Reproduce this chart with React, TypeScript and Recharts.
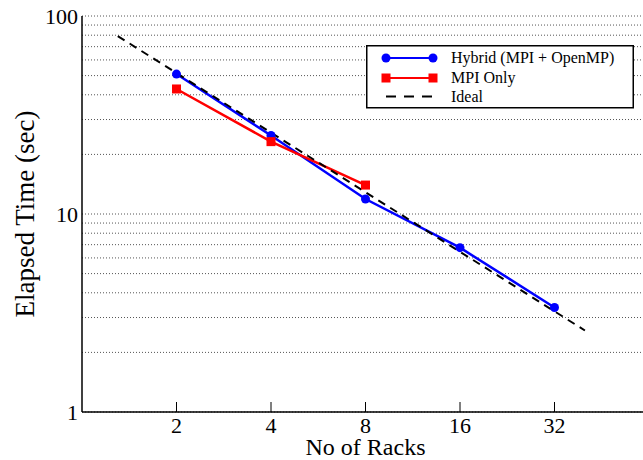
import React from 'react';
import {
  LineChart,
  Line,
  XAxis,
  YAxis,
  CartesianGrid,
  Legend
} from 'recharts';

const FONT = '"Liberation Serif", "Times New Roman", serif';

// x: number of racks, y: elapsed time in seconds (log-log)
const racks = [2, 4, 8, 16, 32];
const hybridTimes = [50.9, 24.9, 11.9, 6.76, 3.37];
const mpiRacks = [2, 4, 8];
const mpiTimes = [42.8, 23.2, 14.0];
const idealRacks = [1.3, 40];
const idealTimes = [79.2, 2.58];

const xTicks = [2, 4, 8, 16, 32];
const yTicks = [1, 2, 3, 4, 5, 6, 7, 8, 9, 10, 20, 30, 40, 50, 60, 70, 80, 90, 100];
const yLabels = [1, 10, 100];

const hybridData = racks.map((r, i) => ({ racks: r, time: hybridTimes[i] }));
const mpiData = mpiRacks.map((r, i) => ({ racks: r, time: mpiTimes[i] }));
const idealData = idealRacks.map((r, i) => ({ racks: r, time: idealTimes[i] }));

const BLUE = '#0000ff';
const RED = '#ff0000';

const BottomTick = (props: any) => {
  const { x, y, payload } = props;
  return (
    <g>
      <line x1={x} y1={y} x2={x} y2={y - 10} stroke="#000" strokeWidth={1} />
      <text x={x} y={y + 21} textAnchor="middle" fontSize={22} fontFamily={FONT} fill="#000">
        {payload.value}
      </text>
    </g>
  );
};

const TopTick = (props: any) => {
  const { x, y } = props;
  return <line x1={x} y1={y} x2={x} y2={y + 10} stroke="#000" strokeWidth={1} />;
};

const SquareDot = (props: any) => {
  const { cx, cy } = props;
  if (cx == null || cy == null) return null;
  return <rect x={cx - 4.5} y={cy - 4.5} width={9} height={9} fill={RED} />;
};

const XTitle = (props: any) => {
  const { viewBox } = props;
  return (
    <text
      x={viewBox.x + viewBox.width / 2}
      y={viewBox.y + 43}
      textAnchor="middle"
      fontSize={24}
      fontFamily={FONT}
      fill="#000"
    >
      No of Racks
    </text>
  );
};

const YTitle = (props: any) => {
  const { viewBox } = props;
  const cx = viewBox.x + 25;
  const cy = viewBox.y + viewBox.height / 2;
  return (
    <text
      x={cx}
      y={cy}
      transform={`rotate(-90, ${cx}, ${cy})`}
      textAnchor="middle"
      dominantBaseline="central"
      fontSize={27}
      fontFamily={FONT}
      fill="#000"
    >
      Elapsed Time (sec)
    </text>
  );
};

const LegendBox = () => (
  <svg width={268} height={64} style={{ display: 'block' }}>
    <rect x={0.75} y={0.75} width={266.5} height={62} fill="#fff" stroke="#000" strokeWidth={1.5} />
    <line x1={20} y1={13} x2={67} y2={13} stroke={BLUE} strokeWidth={2} />
    <circle cx={20} cy={13} r={4.5} fill={BLUE} />
    <circle cx={67} cy={13} r={4.5} fill={BLUE} />
    <text x={85} y={18} fontSize={16} fontFamily={FONT} fill="#000">Hybrid (MPI + OpenMP)</text>
    <line x1={20} y1={33} x2={67} y2={33} stroke={RED} strokeWidth={2} />
    <rect x={15.5} y={28.5} width={9} height={9} fill={RED} />
    <rect x={62.5} y={28.5} width={9} height={9} fill={RED} />
    <text x={85} y={38} fontSize={16} fontFamily={FONT} fill="#000">MPI Only</text>
    <line x1={20} y1={51.5} x2={67} y2={51.5} stroke="#000" strokeWidth={2} strokeDasharray="10 8" />
    <text x={85} y={56.5} fontSize={16} fontFamily={FONT} fill="#000">Ideal</text>
  </svg>
);

const App: React.FC = () => {
  return (
    <div
      style={{
        position: 'absolute',
        left: 0,
        top: 0,
        width: 643,
        height: 460,
        overflow: 'hidden',
        background: '#fff'
      }}
    >
      <LineChart width={660} height={460} margin={{ top: 16, right: 11, bottom: 0, left: 0 }}>
        <CartesianGrid
          xAxisId="bottom"
          vertical={false}
          stroke="#555"
          strokeDasharray="1 2"
        />
        <XAxis
          xAxisId="bottom"
          type="number"
          dataKey="racks"
          scale="log"
          domain={[1, 64]}
          allowDataOverflow
          ticks={xTicks}
          interval={0}
          height={48}
          tickSize={0}
          tickMargin={0}
          tickLine={false}
          axisLine={{ stroke: '#000', strokeWidth: 1.5 }}
          tick={<BottomTick />}
          label={<XTitle />}
        />
        <XAxis
          xAxisId="top"
          orientation="top"
          type="number"
          dataKey="racks"
          scale="log"
          domain={[1, 64]}
          allowDataOverflow
          ticks={xTicks}
          interval={0}
          height={0}
          tickSize={0}
          tickMargin={0}
          tickLine={false}
          axisLine={{ stroke: '#000', strokeWidth: 1.5 }}
          tick={<TopTick />}
        />
        <YAxis
          type="number"
          dataKey="time"
          scale="log"
          domain={[1, 100]}
          allowDataOverflow
          ticks={yTicks}
          interval={0}
          width={82}
          tickSize={0}
          tickMargin={4}
          tickLine={false}
          axisLine={{ stroke: '#000', strokeWidth: 1.5 }}
          tick={{ fontSize: 22, fontFamily: FONT, fill: '#000' }}
          tickFormatter={(v: number) => (yLabels.includes(v) ? String(v) : '')}
          label={<YTitle />}
        />
        <Legend
          layout="vertical"
          align="center"
          verticalAlign="middle"
          content={() => <LegendBox />}
          wrapperStyle={{ left: 366, top: 45, width: 268, height: 64 }}
        />
        <Line
          xAxisId="bottom"
          data={hybridData}
          dataKey="time"
          name="Hybrid (MPI + OpenMP)"
          stroke={BLUE}
          strokeWidth={2.5}
          dot={{ r: 4.5, fill: BLUE, stroke: BLUE, strokeWidth: 0 }}
          isAnimationActive={false}
        />
        <Line
          xAxisId="bottom"
          data={mpiData}
          dataKey="time"
          name="MPI Only"
          stroke={RED}
          strokeWidth={2.5}
          dot={<SquareDot />}
          isAnimationActive={false}
        />
        <Line
          xAxisId="bottom"
          data={idealData}
          dataKey="time"
          name="Ideal"
          stroke="#000"
          strokeWidth={2}
          strokeDasharray="8 6"
          dot={false}
          isAnimationActive={false}
        />
      </LineChart>
    </div>
  );
};

export default App;
